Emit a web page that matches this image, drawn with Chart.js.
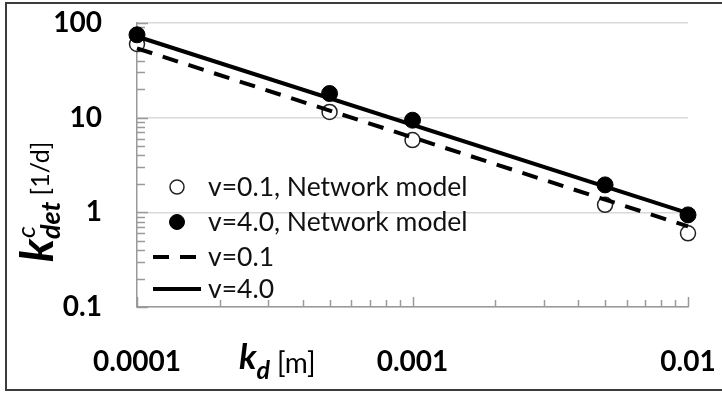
<!DOCTYPE html>
<html><head><meta charset="utf-8">
<script src="https://cdn.jsdelivr.net/npm/chart.js@4"></script>
<style>
html,body{margin:0;padding:0;background:#fff;overflow:hidden;}
#wrap{position:relative;width:722px;height:393px;overflow:hidden;}
#frame{position:absolute;left:5px;top:2px;width:760px;height:389px;border:2px solid #3c3c3c;box-sizing:border-box;pointer-events:none;}
canvas{position:absolute;left:0;top:0;}
</style></head><body>
<div id="wrap"><canvas id="c" width="722" height="393"></canvas><div id="frame"></div></div>
<script>
// ---- data ----
const kd = [0.0001, 0.0005, 0.001, 0.005, 0.01];
const netV01 = [60, 11.5, 5.8, 1.2, 0.6];
const netV40 = [75, 18, 9.4, 1.95, 0.94];
const fitX = [0.0001, 0.01];
const fitV01 = [54, 0.71];
const fitV40 = [72, 0.98];
const seriesNames = ['v=0.1, Network model', 'v=4.0, Network model', 'v=0.1', 'v=4.0'];
const xTickValues = [0.0001, 0.001, 0.01];
const xTickLabels = ['0.0001', '0.001', '0.01'];
const yTickValues = [0.1, 1, 10, 100];
const yTickLabels = ['0.1', '1', '10', '100'];

const FONT = 'Lato, "Liberation Sans", sans-serif';
const AXIS = '#9a9a9a';

const minorTicks = {
  id: 'minorTicks',
  beforeDatasetsDraw(chart) {
    const {ctx, chartArea: a, scales: {x, y}} = chart;
    ctx.save();
    ctx.strokeStyle = AXIS; ctx.lineWidth = 1.5;
    ctx.beginPath();
    for (let e = -1; e <= 2; e++) for (let m = 1; m <= 9; m++) {
      const v = m * Math.pow(10, e); if (v > 100.0001) break;
      const py = Math.round(y.getPixelForValue(v)) + 0.5;
      ctx.moveTo(a.left, py); ctx.lineTo(a.left + (m === 1 ? 11 : 8), py);
    }
    for (let e = -4; e <= -2; e++) for (let m = 1; m <= 9; m++) {
      const v = m * Math.pow(10, e); if (v > 0.0100001) break;
      const px = Math.round(x.getPixelForValue(v)) + 0.5;
      ctx.moveTo(px, a.bottom); ctx.lineTo(px, a.bottom - (m === 1 ? 10 : 7));
    }
    ctx.stroke(); ctx.restore();
  }
};

const titles = {
  id: 'titles',
  afterDraw(chart) {
    const ctx = chart.ctx;
    ctx.save();
    ctx.fillStyle = '#000';
    ctx.textBaseline = 'alphabetic'; ctx.textAlign = 'left';
    // x title: k_d [m]
    let x0 = 239;
    ctx.font = 'italic bold 35px ' + FONT;
    ctx.fillText('k', x0, 369);
    x0 += ctx.measureText('k').width;
    ctx.font = 'italic bold 25px ' + FONT;
    ctx.fillText('d', x0, 379);
    x0 += ctx.measureText('d').width + 7;
    ctx.font = '28px ' + FONT;
    ctx.fillText('[m]', x0, 373);
    // y title: k^c_det [1/d] (rotated)
    ctx.translate(53, 262);
    ctx.rotate(-Math.PI / 2);
    let t = 0;
    ctx.font = 'italic bold 46px ' + FONT;
    ctx.fillText('k', t, 0);
    t += ctx.measureText('k').width;
    ctx.font = 'italic 26px ' + FONT;
    ctx.fillText('c', t + 1, -18);
    ctx.font = 'italic bold 27px ' + FONT;
    ctx.fillText('det', t, 7);
    t += ctx.measureText('det').width + 6;
    ctx.font = '25px ' + FONT;
    ctx.fillText('[1/d]', t, -4);
    ctx.restore();
  }
};

const legendBox = {
  id: 'legendBox',
  afterDraw(chart) {
    const ctx = chart.ctx;
    const rows = [187, 222, 257, 289];
    ctx.save();
    chart.data.datasets.forEach((ds, i) => {
      const yy = rows[i];
      if (ds.showLine) {
        ctx.strokeStyle = ds.borderColor; ctx.lineWidth = ds.borderWidth;
        ctx.setLineDash(ds.borderDash || []);
        ctx.beginPath(); ctx.moveTo(153, yy); ctx.lineTo(201, yy); ctx.stroke();
        ctx.setLineDash([]);
      } else {
        ctx.beginPath(); ctx.arc(177, yy, ds.pointRadius - 0.5, 0, Math.PI * 2);
        ctx.fillStyle = ds.pointBackgroundColor; ctx.fill();
        ctx.strokeStyle = ds.pointBorderColor; ctx.lineWidth = ds.pointBorderWidth; ctx.stroke();
      }
      ctx.fillStyle = '#111';
      ctx.font = '26.5px ' + FONT;
      ctx.textBaseline = 'middle'; ctx.textAlign = 'left';
      ctx.fillText(ds.label, 208, yy);
    });
    ctx.restore();
  }
};

new Chart(document.getElementById('c'), {
  type: 'scatter',
  data: {
    datasets: [
      {label: seriesNames[0], data: kd.map((v, i) => ({x: v, y: netV01[i]})), showLine: false, clip: false,
       pointRadius: 7.5, pointBackgroundColor: '#fff', pointBorderColor: '#222', pointBorderWidth: 1.5, order: 3},
      {label: seriesNames[1], data: kd.map((v, i) => ({x: v, y: netV40[i]})), showLine: false, clip: false,
       pointRadius: 8, pointBackgroundColor: '#000', pointBorderColor: '#000', pointBorderWidth: 1, order: 0},
      {label: seriesNames[2], data: fitX.map((v, i) => ({x: v, y: fitV01[i]})), showLine: true, clip: false,
       borderColor: '#000', borderWidth: 4, borderDash: [16, 11], pointRadius: 0, order: 2},
      {label: seriesNames[3], data: fitX.map((v, i) => ({x: v, y: fitV40[i]})), showLine: true, clip: false,
       borderColor: '#000', borderWidth: 4, pointRadius: 0, order: 1}
    ]
  },
  options: {
    responsive: false, animation: false, devicePixelRatio: 1,
    layout: {padding: {top: 23, right: 34, left: 0, bottom: 0}},
    plugins: {legend: {display: false}, tooltip: {enabled: false}},
    scales: {
      x: {
        type: 'logarithmic', min: 0.0001, max: 0.01,
        afterBuildTicks: s => { s.ticks = xTickValues.map(v => ({value: v})); },
        afterFit: s => { s.height = 86; s.paddingLeft = 0; s.paddingRight = 0; },
        ticks: {callback: (v, i) => xTickLabels[i], font: {family: FONT, size: 28, weight: 'bold'},
                color: '#000', padding: 38, maxRotation: 0, autoSkip: false},
        grid: {display: false, drawTicks: false},
        border: {display: true, color: AXIS, width: 1.5}
      },
      y: {
        type: 'logarithmic', min: 0.1, max: 100,
        afterBuildTicks: s => { s.ticks = yTickValues.map(v => ({value: v})); },
        afterFit: s => { s.width = 137; s.paddingTop = 0; s.paddingBottom = 0; },
        ticks: {callback: (v, i) => yTickLabels[i], font: {family: FONT, size: 28, weight: 'bold'},
                color: '#000', padding: 35, autoSkip: false},
        grid: {color: '#d9d9d9', lineWidth: 1.5, drawTicks: false},
        border: {display: true, color: AXIS, width: 1.5}
      }
    }
  },
  plugins: [minorTicks, titles, legendBox]
});
</script>
</body></html>
